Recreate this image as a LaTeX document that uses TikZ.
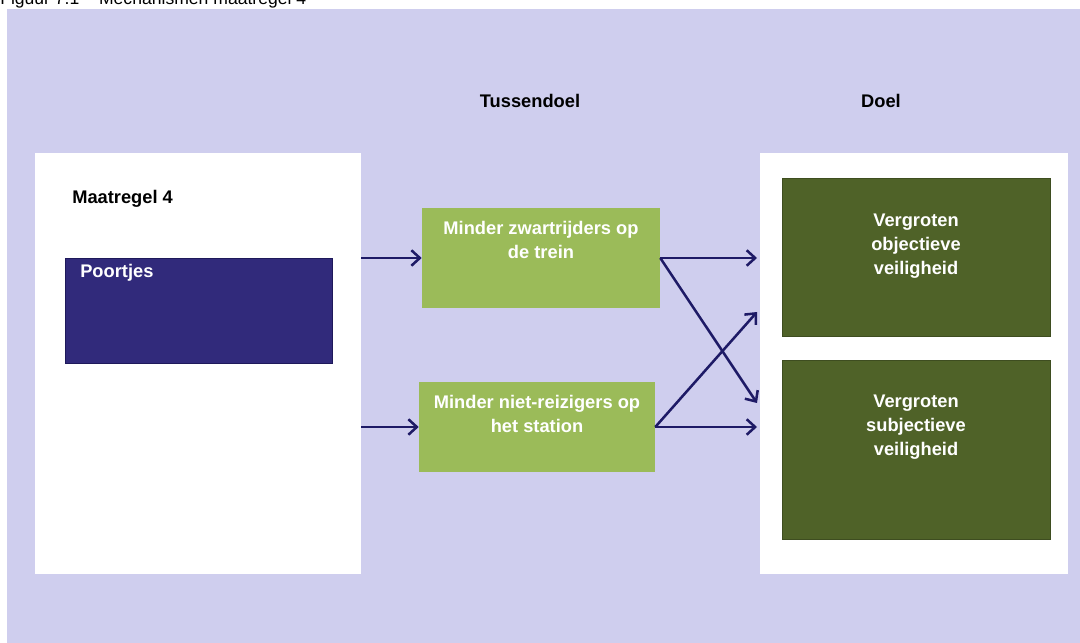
\documentclass[tikz,border=0pt]{standalone}
\usepackage{fontspec}
\setmainfont{Liberation Sans}
\usetikzlibrary{arrows.meta}
\definecolor{lavendel}{RGB}{207,206,238}
\definecolor{navy}{RGB}{49,42,123}
\definecolor{navyrand}{RGB}{30,25,90}
\definecolor{lichtgroen}{RGB}{155,187,89}
\definecolor{donkergroen}{RGB}{79,98,40}
\definecolor{donkerrand}{RGB}{62,77,32}
\definecolor{pijlkleur}{RGB}{30,26,102}

\begin{document}
\begin{tikzpicture}[x=0.025cm, y=-0.025cm,
            vak/.style={rectangle, inner sep=0pt, fill=white},
            blok/.style={rectangle, inner sep=0pt},
            tekst/.style={font=\fontsize{13}{17}\selectfont\bfseries, align=center, inner sep=0pt},
            pijl/.style={line width=1.8pt, draw=pijlkleur, -{Straight Barb[length=6pt, width=11pt]}}]
            \useasboundingbox (0,0) rectangle (1080,643);
            \fill[white] (0,0) rectangle (1080,643);
            \fill[lavendel] (7,9) rectangle (1080,643);
            \node[anchor=base west, inner sep=0pt, font=\fontsize{12.5}{14}\selectfont] (titel) at (0,5) {Figuur 7.1\hspace{14pt}Mechanismen maatregel 4};

            \node[tekst] (tussendoel) at (530,101) {Tussendoel};
            \node[tekst] (doel) at (881,101) {Doel};

            \node[vak, minimum width=326*0.025cm, minimum height=421*0.025cm] (links) at (198,363.5) {};
            \node[tekst, anchor=west] (maatregel) at (72,199) {Maatregel 4};
            \node[blok, fill=navy, draw=navyrand, minimum width=267*0.025cm, minimum height=105*0.025cm] (poort) at (198.5,310.5) {};
            \node[tekst, white, anchor=west] (poorttekst) at (80,273) {Poortjes};

            \node[blok, fill=lichtgroen, minimum width=238*0.025cm, minimum height=100*0.025cm] (zwart) at (541,258) {};
            \node[tekst, white] (zwarttekst) at (541,240) {Minder zwartrijders op\\de trein};
            \node[blok, fill=lichtgroen, minimum width=236*0.025cm, minimum height=90*0.025cm] (nietr) at (537,427) {};
            \node[tekst, white] (nietrtekst) at (537,414) {Minder niet-reizigers op\\het station};

            \node[vak, minimum width=308*0.025cm, minimum height=421*0.025cm] (rechts) at (914,363.5) {};
            \node[blok, fill=donkergroen, draw=donkerrand, minimum width=268*0.025cm, minimum height=158*0.025cm] (obj) at (916,257) {};
            \node[tekst, white] (objtekst) at (916,246) {Vergroten\\objectieve\\veiligheid};
            \node[blok, fill=donkergroen, draw=donkerrand, minimum width=268*0.025cm, minimum height=179*0.025cm] (subj) at (916,449.5) {};
            \node[tekst, white] (subjtekst) at (916,427) {Vergroten\\subjectieve\\veiligheid};

            \coordinate (objin1) at (757,258);
            \coordinate (objin2) at (757,312);
            \coordinate (subjin1) at (757,403);
            \coordinate (subjin2) at (757,427);

            \draw[pijl] (links.east |- zwart.west) -- (zwart.west);
            \draw[pijl] (links.east |- nietr.west) -- (nietr.west);
            \draw[pijl] (zwart.east) -- (objin1);
            \draw[pijl] (zwart.east) -- (subjin1);
            \draw[pijl] (nietr.east) -- (objin2);
            \draw[pijl] (nietr.east) -- (subjin2);
        \end{tikzpicture}
\end{document}
